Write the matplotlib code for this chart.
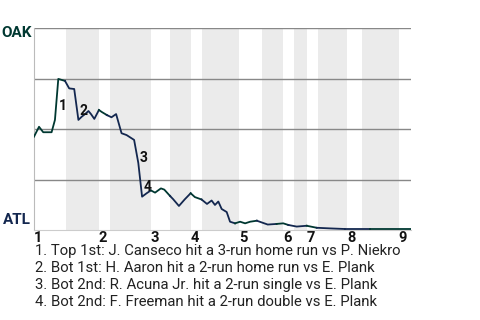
import matplotlib
matplotlib.use("Agg")
import matplotlib.pyplot as plt
import numpy as np

# game progress (plate appearances) and OAK win probability
pa = [0.0, 1.2, 2.2, 4.2, 5.0, 5.8, 6.6, 7.4, 8.4, 9.6, 10.6, 11.4, 12.2, 13.0, 13.6, 14.4,
      15.5, 16.2, 17.4, 18.5, 19.6, 20.9, 22.1, 23.9, 24.9, 25.8, 26.9, 27.9, 28.9, 30.3, 31.1,
      32.5, 33.2, 34.6, 36.0, 37.4, 38.4, 40.0, 41.3, 42.4, 43.2, 44.0, 44.8, 46.0, 46.8, 48.0,
      49.2, 50.4, 51.6, 53.2, 54.7, 55.8, 57.9, 59.5, 60.7, 62.7, 65.1, 66.3, 67.5, 70.6, 74.2,
      80.2, 90.0]
wp_oak = [0.462, 0.511, 0.484, 0.484, 0.545, 0.748, 0.743, 0.738, 0.701, 0.698, 0.545, 0.561,
          0.574, 0.589, 0.574, 0.550, 0.594, 0.584, 0.569, 0.558, 0.574, 0.479, 0.470, 0.446,
          0.332, 0.165, 0.182, 0.196, 0.185, 0.206, 0.200, 0.168, 0.153, 0.119, 0.152, 0.182,
          0.163, 0.151, 0.129, 0.146, 0.124, 0.141, 0.104, 0.089, 0.041, 0.033, 0.041, 0.033,
          0.041, 0.046, 0.035, 0.027, 0.030, 0.033, 0.025, 0.017, 0.021, 0.016, 0.011, 0.008,
          0.005, 0.005, 0.005]

# half-inning boundaries (top 1st, bot 1st, top 2nd, ...)
half_starts = [0.0, 7.6, 15.5, 18.1, 27.9, 32.5, 37.5, 40.1, 48.9, 54.4, 59.4, 62.1, 65.2,
               67.8, 74.7, 78.3, 87.1]
x_end = 90.0
innings = ['1', '2', '3', '4', '5', '6', '7', '8', '9']

# key events (index into the series) and their descriptions
event_idx = [5, 10, 24, 25]
event_text = [
    "1. Top 1st: J. Canseco hit a 3-run home run vs P. Niekro",
    "2. Bot 1st: H. Aaron hit a 2-run home run vs E. Plank",
    "3. Bot 2nd: R. Acuna Jr. hit a 2-run single vs E. Plank",
    "4. Bot 2nd: F. Freeman hit a 2-run double vs E. Plank",
]

oak_col = '#003831'
atl_col = '#13274F'

plt.rcParams['font.family'] = ['Roboto', 'DejaVu Sans']
fig = plt.figure(figsize=(4.8, 3.2), dpi=100)
ax = fig.add_axes([34 / 480, 90 / 320, 377 / 480, 202 / 320])

bounds = half_starts + [x_end]
x = np.array(pa)
y = np.array(wp_oak)
for h in range(len(half_starts)):
    lo, hi = bounds[h], bounds[h + 1]
    if h % 2 == 1:
        ax.axvspan(lo, hi, color='#ebebeb', lw=0, zorder=0)
    sel = np.where((x > lo) & (x <= hi))[0]
    if len(sel) == 0:
        continue
    idx = np.concatenate([[max(sel[0] - 1, 0)], sel])
    ax.plot(x[idx], y[idx], color=oak_col if h % 2 == 0 else atl_col, lw=1.3,
            solid_joinstyle='round', zorder=3)

for g in [0.25, 0.5, 0.75, 1.0]:
    ax.axhline(g, color='#888888', lw=1, zorder=1)

for i, k in enumerate(event_idx):
    mid = (wp_oak[k] + wp_oak[k - 1]) / 2
    ax.annotate(str(i + 1), (pa[k], mid), xytext=(5, -7), textcoords='offset pixels',
                ha='center', va='center', fontsize=10, fontweight='bold', color='#111111',
                zorder=4)

ax.set_xlim(0, x_end)
ax.set_ylim(0, 1)
ax.set_yticks([])
inning_x = half_starts[::2]
ax.set_xticks(inning_x)
ax.set_xticklabels(innings, fontsize=10.5, fontweight='bold', color='#111111', ha='left')
ax.tick_params(axis='x', length=0, pad=1)
for s in ['top', 'right']:
    ax.spines[s].set_visible(False)
ax.spines['left'].set_color('#bbbbbb')
ax.spines['bottom'].set_color('#cccccc')

fig.text(1 / 480, 1 - 33 / 320, 'OAK', color=oak_col, fontsize=11, fontweight='bold',
         ha='left', va='center')
fig.text(3 / 480, 1 - 220 / 320, 'ATL', color=atl_col, fontsize=11, fontweight='bold',
         ha='left', va='center')

for i, t in enumerate(event_text):
    fig.text(35 / 480, 1 - (251 + 17 * i) / 320, t, fontsize=10.7, color='#222222',
             ha='left', va='center')

fig.savefig('out.png', dpi=100)
